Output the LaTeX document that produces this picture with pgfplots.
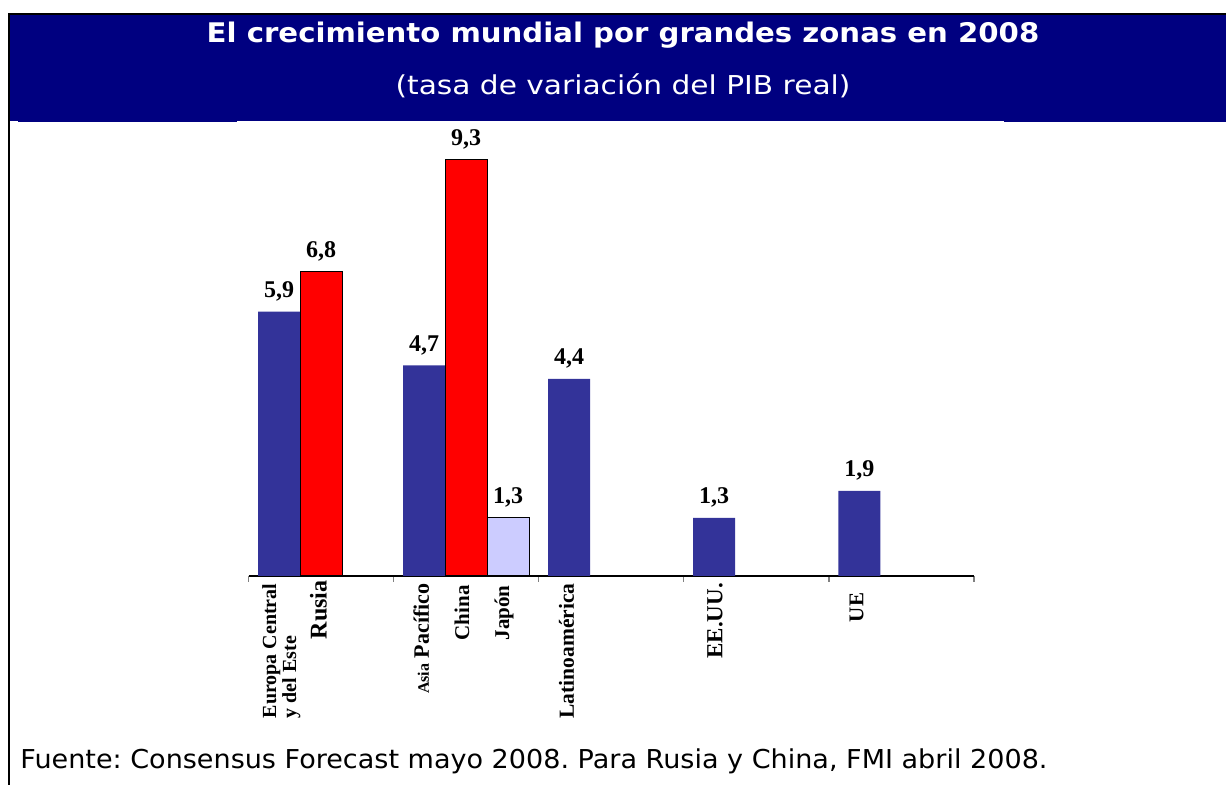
\documentclass[border=0pt]{standalone}
\usepackage{fontspec}
\setmainfont{Liberation Serif}
\newfontfamily\verd{DejaVu Sans}
\usepackage{pgfplots}
\pgfplotsset{compat=1.18}
\definecolor{hdrBlue}{HTML}{000080}
\definecolor{barBlue}{HTML}{333399}
\definecolor{barRed}{HTML}{FF0000}
\definecolor{barLav}{HTML}{CCCCFF}
\definecolor{tickGrey}{HTML}{808080}
\frenchspacing

\begin{document}
\begin{tikzpicture}[x=0.5pt,y=0.5pt]
% page frame: 1226 x 785 px, 1px = 0.5pt
\useasboundingbox (0,0) rectangle (1226,785);
\fill[hdrBlue] (9.5,664) rectangle (1226,770.5);
\fill[hdrBlue] (18,662.5) rectangle (237,665);
\fill[hdrBlue] (1004,662.5) rectangle (1226,665);
\draw[black, line width=0.9pt] (8.8,0) -- (8.8,771.2) -- (1226,771.2);
\node[text=white, font=\verd\bfseries\fontsize{13.5pt}{15pt}\selectfont, anchor=base, inner sep=0, xscale=1.08]
  at (623,742) {El crecimiento mundial por grandes zonas en 2008};
\node[text=white, font=\verd\fontsize{13pt}{15pt}\selectfont, anchor=base, inner sep=0, xscale=1.14]
  at (623,690) {(tasa de variación del PIB real)};
\node[text=black, font=\verd\fontsize{13pt}{15pt}\selectfont, anchor=base west, inner sep=0, xscale=1.04]
  at (20,16) {Fuente: Consensus Forecast mayo 2008. Para Rusia y China, FMI abril 2008.};

\begin{axis}[
  at={(124.35pt,104.5pt)}, anchor=south west,
  scale only axis, width=362.65pt, height=224pt,
  xmin=0, xmax=5, ymin=0, ymax=10,
  axis x line*=bottom, axis y line=none,
  x axis line style={black, line width=0.6pt},
  xtick={0,1,2,3,4,5}, xticklabels={},
  tick align=outside, major tick length=3pt,
  xtick style={tickGrey, line width=0.6pt},
  ytick=\empty,
  ybar, bar width=21pt, clip=false,
  nodes near coords={\pgfmathprintnumber[fixed,fixed zerofill,precision=1,use comma,assume math mode=true]{\pgfplotspointmeta}},
  every node near coord/.append style={font=\bfseries\fontsize{12pt}{13pt}\selectfont, anchor=base, inner sep=0, yshift=7pt},
]
\addplot[bar shift=0pt, fill=barBlue, draw=none]
  coordinates {(0.209,5.9) (1.209,4.7) (2.209,4.4) (3.209,1.3) (4.209,1.9)};
\addplot[bar shift=0pt, fill=barRed, draw=black, line width=0.5pt]
  coordinates {(0.499,6.8) (1.499,9.3)};
\addplot[bar shift=0pt, fill=barLav, draw=black, line width=0.5pt]
  coordinates {(1.789,1.3)};

\begin{scope}[every node/.style={rotate=90, anchor=east, inner sep=0, align=left}]
\node[font=\bfseries\fontsize{10pt}{10pt}\selectfont] at (axis cs:0.225,-0.16) {Europa Central\\y del Este};
\node[font=\bfseries\fontsize{12pt}{12pt}\selectfont] at (axis cs:0.48,-0.09) {Rusia};
\node[font=\bfseries\fontsize{11pt}{11pt}\selectfont] at (axis cs:1.19,-0.16) {{\fontsize{8pt}{8pt}\selectfont Asia} Pacífico};
\node[font=\bfseries\fontsize{10.5pt}{11pt}\selectfont] at (axis cs:1.47,-0.20) {China};
\node[font=\bfseries\fontsize{10.5pt}{11pt}\selectfont] at (axis cs:1.76,-0.20) {Japón};
\node[font=\bfseries\fontsize{10.75pt}{11pt}\selectfont] at (axis cs:2.19,-0.16) {Latinoamérica};
\node[font=\bfseries\fontsize{11.5pt}{12pt}\selectfont] at (axis cs:3.215,-0.15) {EE.UU.};
\node[font=\bfseries\fontsize{10.5pt}{11pt}\selectfont] at (axis cs:4.19,-0.37) {UE};
\end{scope}
\end{axis}
\end{tikzpicture}
\end{document}
